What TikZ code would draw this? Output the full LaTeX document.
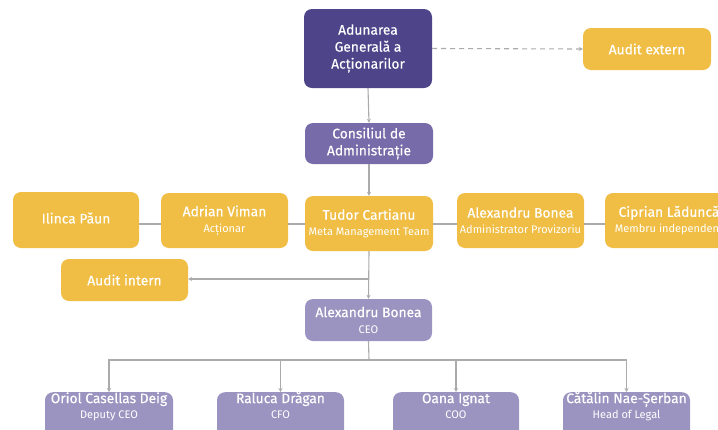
\documentclass[tikz,border=0pt]{standalone}
\usepackage{fontspec}
\setmainfont{Fira Sans}[BoldFont=Fira Sans,BoldFeatures={FakeBold=0.25}]
\usetikzlibrary{arrows.meta,positioning}
\definecolor{dpurp}{HTML}{4E4489}
\definecolor{mpurp}{HTML}{776CA9}
\definecolor{lpurp}{HTML}{9C94C0}
\definecolor{yel}{HTML}{F0BE45}
\definecolor{lin}{HTML}{ABABAB}
\newcommand{\subt}[1]{{\fontsize{11}{13}\mdseries\selectfont #1}}
\begin{document}
\begin{tikzpicture}[x=1pt,y=-1pt,
  box/.style={rounded corners=8pt,text=white,align=center,inner sep=0pt,font=\fontsize{13.8}{17}\bfseries\selectfont},
  ybox/.style={box,fill=yel},
  pbox/.style={box,fill=lpurp,minimum height=48pt,anchor=north},
  lbl/.style={text=white,align=center,font=\fontsize{13.8}{17}\bfseries\selectfont,anchor=north,inner sep=0pt},
  conn/.style={draw=lin,line width=1.1pt},
  arr/.style={conn,-{Stealth[length=4pt,width=4pt]}}]
\useasboundingbox (0,0) rectangle (718,429);
\clip (0,0) rectangle (718,429);
% top
\node[box,fill=dpurp,minimum width=128pt,minimum height=79pt] (aga) at (368,48.5) {Adunarea\\Generală a\\Acționarilor};
\node[ybox,minimum width=128pt,minimum height=42pt] (ae) at (647,49) {Audit extern};
\node[box,fill=mpurp,minimum width=128pt,minimum height=41pt] (ca) at (369,143.5) {Consiliul de\\Administrație};
% middle row
\node[ybox,minimum width=126pt,minimum height=56pt] (ip) at (76,220) {\raisebox{4pt}{Ilinca Păun}};
\node[ybox,minimum width=127pt,minimum height=55pt] (av) at (224.5,220.5) {Adrian Viman\\[-1pt]\subt{Acționar}};
\node[ybox,minimum width=128pt,minimum height=55pt] (tc) at (369,223.5) {Tudor Cartianu\\[-1pt]\subt{Meta Management Team}};
\node[ybox,minimum width=127pt,minimum height=55pt] (ab) at (520.5,220.5) {Alexandru Bonea\\[-1pt]\subt{Administrator Provizoriu}};
\node[ybox,minimum width=128pt,minimum height=55pt] (cl) at (669,220.5) {Ciprian Lăduncă\\[-1pt]\subt{Membru independent}};
\node[ybox,minimum width=127pt,minimum height=42pt] (ai) at (124.5,280) {Audit intern};
\node[box,fill=lpurp,minimum width=127pt,minimum height=42pt] (ceo) at (368.5,320) {Alexandru Bonea\\[-1pt]\subt{CEO}};
% bottom row
\node[pbox,minimum width=128pt] (od) at (109,392) {};
\node[pbox,minimum width=127pt] (rd) at (280.5,392) {};
\node[pbox,minimum width=126pt] (oi) at (456,392) {};
\node[pbox,minimum width=127pt] (cn) at (626.5,392) {};
\node[lbl] (odt) at ([yshift=1pt]od.north) {\strut Oriol Casellas Deig\\[-2pt]\subt{Deputy CEO}};
\node[lbl] (rdt) at ([yshift=1pt]rd.north) {\strut Raluca Drăgan\\[-2pt]\subt{CFO}};
\node[lbl] (oit) at ([yshift=1pt]oi.north) {\strut Oana Ignat\\[-2pt]\subt{COO}};
\node[lbl] (cnt) at ([yshift=1pt]cn.north) {\strut Cătălin Nae-Șerban\\[-2pt]\subt{Head of Legal}};
% connectors
\draw[arr,dashed,dash pattern=on 5pt off 4pt] (aga.east) -- (ae.west);
\draw[arr] (aga.south) -- (ca.north);
\draw[arr] (ca.south) -- (tc.north);
\draw[conn] (ip.east |- 0,224) -- (av.west |- 0,224);
\draw[conn] (av.east |- 0,224) -- (tc.west |- 0,224);
\draw[conn] (tc.east |- 0,224) -- (ab.west |- 0,224);
\draw[conn] (ab.east |- 0,224) -- (cl.west |- 0,224);
\coordinate (br) at (369,279);
\draw[arr] (tc.south) -- (ceo.north);
\draw[arr] (br) -- (ai.east |- br);
\coordinate (hb) at (369,360);
\draw[conn] (ceo.south) -- (hb);
\draw[arr] (hb) -| (od.north);
\draw[arr] (hb) -| (rd.north);
\draw[arr] (hb) -| (oi.north);
\draw[arr] (hb) -| (cn.north);
\end{tikzpicture}
\end{document}
